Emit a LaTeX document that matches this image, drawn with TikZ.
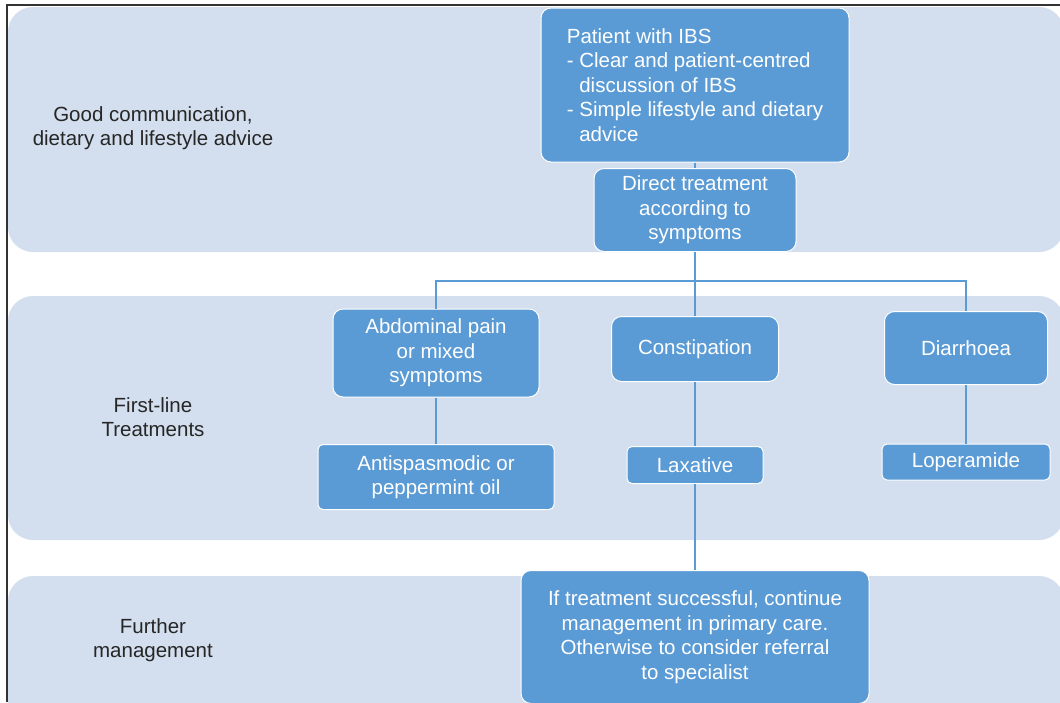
\documentclass[tikz,border=0pt]{standalone}
\usepackage{fontspec}
\setmainfont{Liberation Sans}
\definecolor{bandblue}{HTML}{D3DFEE}
\definecolor{boxblue}{HTML}{5B9BD5}
\definecolor{labelgrey}{HTML}{262626}
\definecolor{framegrey}{HTML}{333333}
\tikzset{
  band/.style={fill=bandblue, rounded corners=25pt},
  box/.style={draw=white, line width=1pt, fill=boxblue, text=white, rounded corners=10pt,
    align=center, inner sep=0pt, font=\fontsize{20.5}{24.5}\selectfont},
  smallbox/.style={box, rounded corners=5pt},
  bandlabel/.style={text=labelgrey, align=center, font=\fontsize{20.5}{24.5}\selectfont},
  link/.style={draw=boxblue, line width=1.5pt}
}

\begin{document}
\begin{tikzpicture}[x=1pt, y=-1pt]
\useasboundingbox (0,0) rectangle (1060,702);
\clip (0,0) rectangle (1060,702);
% background bands
\fill[band] (8,7)   rectangle (1064,252);
\fill[band] (8,296) rectangle (1064,540);
\fill[band] (8,576) rectangle (1064,740);
\draw[framegrey, line width=1.5pt] (7,702) -- (7,5) -- (1060,5);
% band labels
\node[bandlabel] (lgood)  at (153,128) {Good communication,\\dietary and lifestyle advice};
\node[bandlabel] (lfirst) at (153,417) {First-line\\Treatments};
\node[bandlabel] (lmore)  at (153,640) {Further\\management};
% boxes
\node[box, align=left, minimum width=308pt, minimum height=154pt] (ibs) at (695,85)
  {Patient with IBS\\- Clear and patient-centred\\\phantom{- }discussion of IBS\\- Simple lifestyle and dietary\\\phantom{- }advice};
\node[box, minimum width=202pt, minimum height=83pt] (direct) at (695,210) {Direct treatment\\according to\\symptoms};
\node[box, minimum width=206pt, minimum height=88pt] (abd) at (436,353) {Abdominal pain\\or mixed\\symptoms};
\node[box, minimum width=167pt, minimum height=65pt] (con) at (695,349) {Constipation};
\node[box, minimum width=163pt, minimum height=73pt] (dia) at (966,348) {Diarrhoea};
\node[smallbox, minimum width=236pt, minimum height=65pt] (anti) at (436,477) {Antispasmodic or\\peppermint oil};
\node[smallbox, minimum width=136pt, minimum height=37pt] (lax) at (695,465) {Laxative};
\node[smallbox, minimum width=168pt, minimum height=36pt] (lope) at (966,462) {Loperamide};
\node[box, minimum width=348pt, minimum height=133pt] (final) at (695,637)
  {If treatment successful, continue\\management in primary care.\\Otherwise to consider referral\\to specialist};
% connectors
\coordinate (bus) at (695,281);
\draw[link] (direct) -- (bus);
\foreach \n in {abd,con,dia}
{
  \draw[link] (bus) -| (\n.north);
}
\foreach \a/\b in {ibs/direct,abd/anti,con/lax,dia/lope,lax/final}
{
  \draw[link] (\a) -- (\b);
}
\end{tikzpicture}
\end{document}
